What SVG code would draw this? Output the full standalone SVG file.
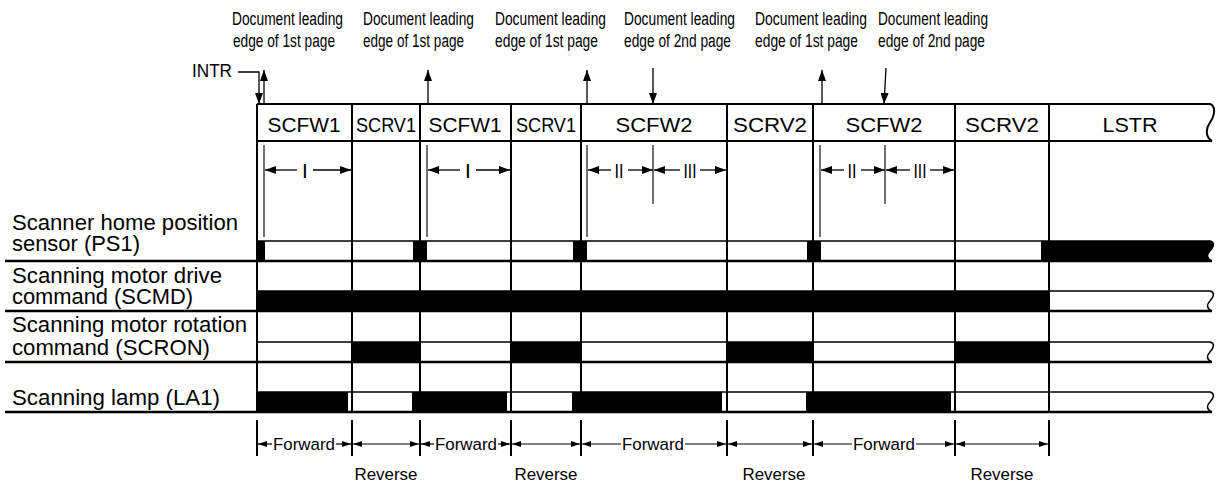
<svg xmlns="http://www.w3.org/2000/svg" width="1217" height="487" viewBox="0 0 1217 487">
<style>
text{font-family:"Liberation Sans",Arial,sans-serif;fill:#000}
.top{font-size:18px}
.hdr{font-size:21px;text-anchor:middle}
.lbl{font-size:22px}
.rom{font-size:21px;text-anchor:middle}
.dir{font-size:17px;text-anchor:middle}
.ln{stroke:#000;stroke-width:2;fill:none}
.thin{stroke:#000;stroke-width:1.5;fill:none}
.thick{stroke:#000;stroke-width:2.6;fill:none}
.gl{stroke:#444;stroke-width:1.5;fill:none}
.blk{fill:#000}
.arr{stroke:#000;stroke-width:1.3;fill:none;marker-end:url(#ah)}
.arr2{stroke:#000;stroke-width:1.3;fill:none;marker-start:url(#ah);marker-end:url(#ah)}
.barr{stroke:#000;stroke-width:1.2;fill:none;marker-end:url(#ahs)}
.barr2{stroke:#000;stroke-width:1.2;fill:none;marker-start:url(#ahs);marker-end:url(#ahs)}
</style>
<defs>
<marker id="ah" markerUnits="userSpaceOnUse" markerWidth="11" markerHeight="8" refX="11" refY="4" orient="auto-start-reverse"><path d="M0,0 L11,4 L0,8 z" fill="#000"/></marker>
<marker id="ahs" markerUnits="userSpaceOnUse" markerWidth="9" markerHeight="6" refX="9" refY="3" orient="auto-start-reverse"><path d="M0,0 L9,3 L0,6 z" fill="#000"/></marker>
</defs>
<rect x="0" y="0" width="1217" height="487" fill="#fff"/>

<g id="top-labels">
<text class="top" x="232" y="25" textLength="111" lengthAdjust="spacingAndGlyphs">Document leading</text>
<text class="top" x="233" y="47" textLength="102" lengthAdjust="spacingAndGlyphs">edge of 1st page</text>
<text class="top" x="363" y="25" textLength="111" lengthAdjust="spacingAndGlyphs">Document leading</text>
<text class="top" x="363" y="47" textLength="101" lengthAdjust="spacingAndGlyphs">edge of 1st page</text>
<text class="top" x="495" y="25" textLength="111" lengthAdjust="spacingAndGlyphs">Document leading</text>
<text class="top" x="495" y="47" textLength="103" lengthAdjust="spacingAndGlyphs">edge of 1st page</text>
<text class="top" x="624" y="25" textLength="111" lengthAdjust="spacingAndGlyphs">Document leading</text>
<text class="top" x="624" y="47" textLength="107" lengthAdjust="spacingAndGlyphs">edge of 2nd page</text>
<text class="top" x="755" y="25" textLength="112" lengthAdjust="spacingAndGlyphs">Document leading</text>
<text class="top" x="755" y="47" textLength="103" lengthAdjust="spacingAndGlyphs">edge of 1st page</text>
<text class="top" x="878" y="25" textLength="110" lengthAdjust="spacingAndGlyphs">Document leading</text>
<text class="top" x="878" y="47" textLength="107" lengthAdjust="spacingAndGlyphs">edge of 2nd page</text>
<text class="top" x="192" y="77" textLength="40" lengthAdjust="spacingAndGlyphs">INTR</text>
</g>

<g id="signal-labels">
<text class="lbl" x="12" y="230" textLength="226" lengthAdjust="spacingAndGlyphs">Scanner home position</text>
<text class="lbl" x="12" y="251" textLength="128" lengthAdjust="spacingAndGlyphs">sensor (PS1)</text>
<text class="lbl" x="12" y="283" textLength="210" lengthAdjust="spacingAndGlyphs">Scanning motor drive</text>
<text class="lbl" x="12" y="304" textLength="181" lengthAdjust="spacingAndGlyphs">command (SCMD)</text>
<text class="lbl" x="12" y="332" textLength="235" lengthAdjust="spacingAndGlyphs">Scanning motor rotation</text>
<text class="lbl" x="12" y="355" textLength="198" lengthAdjust="spacingAndGlyphs">command (SCRON)</text>
<text class="lbl" x="12" y="405" textLength="208" lengthAdjust="spacingAndGlyphs">Scanning lamp (LA1)</text>
</g>

<g id="header">
<path class="ln" d="M257,104 H1210 c6,2 5,11 0,18.5 c-5,7 -4,15 2,18.5 M257,141 H1212"/>
<text class="hdr" x="304" y="132" textLength="73" lengthAdjust="spacingAndGlyphs">SCFW1</text>
<text class="hdr" x="386" y="132" textLength="60" lengthAdjust="spacingAndGlyphs">SCRV1</text>
<text class="hdr" x="465" y="132" textLength="73" lengthAdjust="spacingAndGlyphs">SCFW1</text>
<text class="hdr" x="546" y="132" textLength="60" lengthAdjust="spacingAndGlyphs">SCRV1</text>
<text class="hdr" x="654" y="132" textLength="77" lengthAdjust="spacingAndGlyphs">SCFW2</text>
<text class="hdr" x="770" y="132" textLength="74" lengthAdjust="spacingAndGlyphs">SCRV2</text>
<text class="hdr" x="884" y="132" textLength="77" lengthAdjust="spacingAndGlyphs">SCFW2</text>
<text class="hdr" x="1002" y="132" textLength="74" lengthAdjust="spacingAndGlyphs">SCRV2</text>
<text class="hdr" x="1130" y="132" textLength="55" lengthAdjust="spacingAndGlyphs">LSTR</text>
</g>

<g id="ps1">
<rect class="blk" x="257" y="241" width="8" height="20"/>
<rect class="blk" x="413" y="241" width="14" height="20"/>
<rect class="blk" x="573" y="241" width="14" height="20"/>
<rect class="blk" x="807" y="241" width="14" height="20"/>
<path class="blk" d="M1041,241 H1210 c5,1 4,6 0,10 c-4,4 -3,8 2,10 H1041 Z"/>
<path class="thin" d="M257,241 H1210 c5,1 4,6 0,10 c-4,4 -3,8 2,10"/>
<path class="thick" d="M5,261 H1212"/>
</g>

<g id="scmd">
<rect class="blk" x="257" y="291" width="792" height="20"/>
<path class="thin" d="M257,291 H1210 c5,1 4,6 0,10 c-4,4 -3,8 2,10"/>
<path class="thick" d="M5,311 H1212"/>
</g>

<g id="scron">
<rect class="blk" x="352" y="342" width="68" height="20"/>
<rect class="blk" x="510" y="342" width="70" height="20"/>
<rect class="blk" x="727" y="342" width="86" height="20"/>
<rect class="blk" x="955" y="342" width="94" height="20"/>
<path class="thin" d="M257,342 H1210 c5,1 4,6 0,10 c-4,4 -3,8 2,10"/>
<path class="thick" d="M5,362 H1212"/>
</g>

<g id="la1">
<rect class="blk" x="257" y="392" width="91" height="20"/>
<rect class="blk" x="412" y="392" width="95" height="20"/>
<rect class="blk" x="572" y="392" width="150" height="20"/>
<rect class="blk" x="806" y="392" width="145" height="20"/>
<path class="thin" d="M257,392 H1210 c5,1 4,6 0,10 c-4,4 -3,8 2,10"/>
<path class="thick" d="M5,412 H1212"/>
</g>

<g id="grid">
<path class="ln" d="M257,104 V412 M352,104 V412 M420,104 V412 M511,104 V412 M581,104 V412 M727,104 V412 M813,104 V412 M955,104 V412 M1049,104 V412"/>
<path class="ln" d="M257,420 V456 M352,420 V456 M420,420 V456 M511,420 V456 M581,420 V456 M727,420 V456 M813,420 V456 M955,420 V456 M1049,420 V456"/>
</g>

<g id="intervals">
<path class="gl" d="M264,145 V237 M427,145 V237 M587,145 V237 M653,145 V204 M820,145 V237 M885,145 V204"/>
<text class="rom" x="305" y="178">I</text>
<text class="rom" x="468" y="178">I</text>
<text class="rom" x="619" y="178" textLength="9" lengthAdjust="spacingAndGlyphs">II</text>
<text class="rom" x="690" y="178" textLength="13" lengthAdjust="spacingAndGlyphs">III</text>
<text class="rom" x="852" y="178" textLength="9" lengthAdjust="spacingAndGlyphs">II</text>
<text class="rom" x="920" y="178" textLength="13" lengthAdjust="spacingAndGlyphs">III</text>
</g>

<g id="directions">
<text class="dir" x="304" y="450" textLength="62" lengthAdjust="spacingAndGlyphs">Forward</text>
<text class="dir" x="466" y="450" textLength="62" lengthAdjust="spacingAndGlyphs">Forward</text>
<text class="dir" x="653" y="450" textLength="62" lengthAdjust="spacingAndGlyphs">Forward</text>
<text class="dir" x="884" y="450" textLength="62" lengthAdjust="spacingAndGlyphs">Forward</text>
<text class="dir" x="386" y="480" textLength="63" lengthAdjust="spacingAndGlyphs">Reverse</text>
<text class="dir" x="546" y="480" textLength="63" lengthAdjust="spacingAndGlyphs">Reverse</text>
<text class="dir" x="774" y="480" textLength="63" lengthAdjust="spacingAndGlyphs">Reverse</text>
<text class="dir" x="1002" y="480" textLength="63" lengthAdjust="spacingAndGlyphs">Reverse</text>
</g>

<g id="connectors">
<path class="arr" d="M238,72 H259 V104"/>
<path class="arr" d="M264,104 V70"/>
<path class="arr" d="M428,104 V70"/>
<path class="arr" d="M587,104 V70"/>
<path class="arr" d="M653,68 V104"/>
<path class="arr" d="M822,104 V70"/>
<path class="arr" d="M886,68 L884,104"/>

<path class="arr" d="M297,170 H265"/>
<path class="arr" d="M313,170 H351"/>
<path class="arr" d="M460,170 H428"/>
<path class="arr" d="M476,170 H510"/>
<path class="arr" d="M611,170 H588"/>
<path class="arr" d="M628,170 H653"/>
<path class="arr" d="M680,170 H654"/>
<path class="arr" d="M700,170 H726"/>
<path class="arr" d="M844,170 H821"/>
<path class="arr" d="M861,170 H885"/>
<path class="arr" d="M910,170 H886"/>
<path class="arr" d="M930,170 H954"/>

<path class="barr" d="M272,444 H258"/>
<path class="barr" d="M336,444 H351"/>
<path class="barr2" d="M353,444 H419"/>
<path class="barr" d="M434,444 H421"/>
<path class="barr" d="M498,444 H510"/>
<path class="barr2" d="M512,444 H580"/>
<path class="barr" d="M621,444 H582"/>
<path class="barr" d="M685,444 H726"/>
<path class="barr2" d="M728,444 H812"/>
<path class="barr" d="M852,444 H814"/>
<path class="barr" d="M916,444 H954"/>
<path class="barr2" d="M956,444 H1048"/>
</g>
</svg>
